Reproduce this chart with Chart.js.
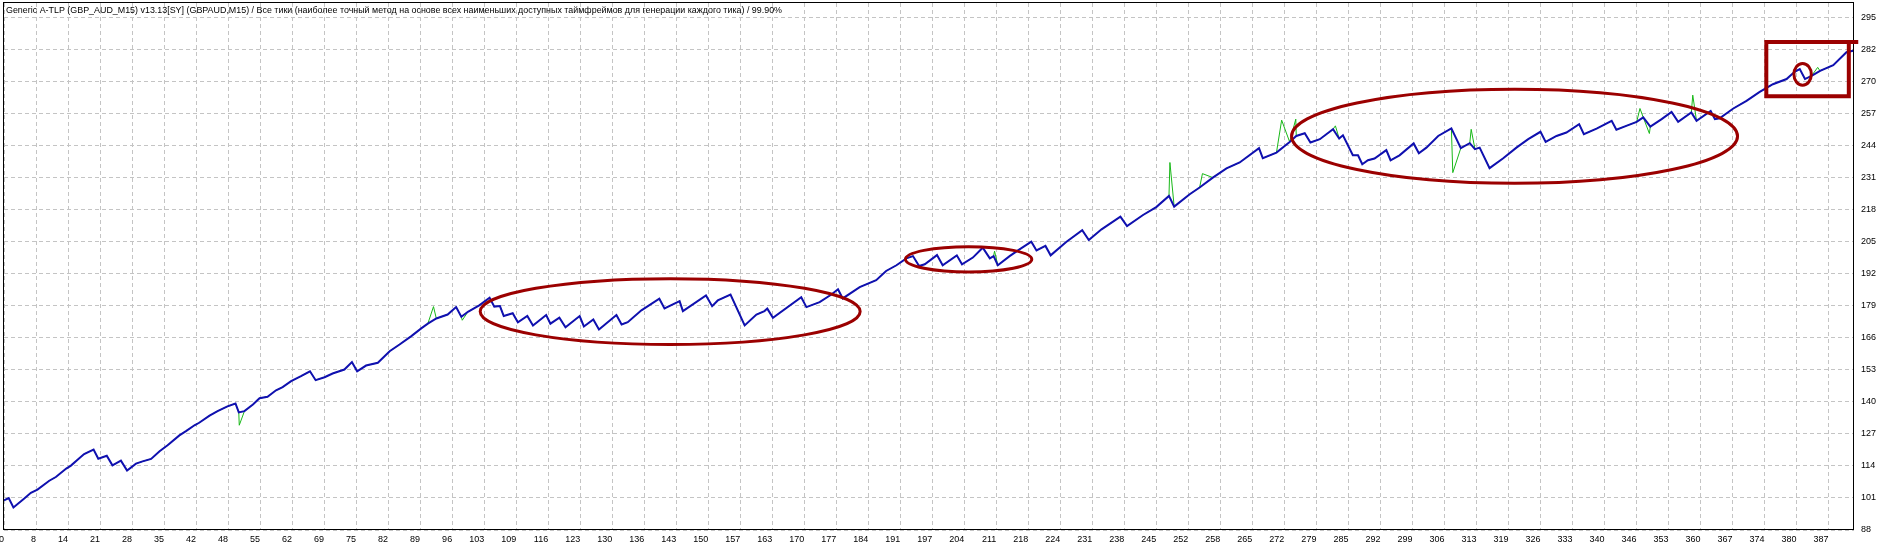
<!DOCTYPE html>
<html><head><meta charset="utf-8">
<script src="https://cdn.jsdelivr.net/npm/chart.js@4/dist/chart.umd.min.js"></script>
<style>html,body{margin:0;padding:0;background:#fff;overflow:hidden}#wrap{width:1900px;height:548px;position:relative}</style>
</head><body><div id="wrap"><canvas id="c" width="1900" height="548"></canvas></div>
<script>
const titleText = "Generic A-TLP (GBP_AUD_M15) v13.13[SY] (GBPAUD,M15) / Все тики (наиболее точный метод на основе всех наименьших доступных таймфреймов для генерации каждого тика) / 99.90%";

const xTickLabels = [0,8,14,21,28,35,42,48,55,62,69,75,82,89,96,103,109,116,123,130,136,143,150,157,163,170,177,184,191,197,204,211,218,224,231,238,245,252,258,265,272,279,285,292,299,306,313,319,326,333,340,346,353,360,367,374,380,387];
const yTickLabels = [88,101,114,127,140,153,166,179,192,205,218,231,244,257,270,282,295];

const tradeNo = [0,1.0,2.0,4.3,5.7,7.1,9.6,11.0,13.2,14.2,15.6,17.0,19.0,20.0,21.8,23.0,24.8,26.1,28.0,29.4,31.2,33.0,34.7,37.2,38.6,40.4,41.4,43.6,45.3,47.4,49.1,49.8,51.0,52.8,54.2,55.9,57.7,59.1,60.9,63.0,64.9,66.1,68.0,69.7,72.2,73.8,74.9,76.8,79.3,81.8,83.9,86.4,88.5,89.9,91.7,94.1,95.9,97.0,98.4,100.8,101.6,103.0,104.0,105.2,106.0,107.9,109.0,111.0,112.2,115.0,115.9,117.8,119.1,122.1,123.0,125.0,126.2,129.9,131.0,132.3,135.2,139.0,140.1,143.3,144.0,148.9,150.2,151.4,154.1,157.1,159.6,161.3,161.9,163.1,169.1,170.2,173.0,175.5,176.9,177.9,181.5,185.0,187.1,189.3,191.4,192.8,194.1,195.3,197.9,199.1,202.1,203.2,205.5,207.6,209.1,209.9,210.8,213.3,215.4,217.9,219.0,220.9,222.0,225.3,228.7,230.1,232.8,236.8,238.2,241.6,244.4,247.1,248.2,251.5,253.6,256.4,259.3,262.1,266.2,267.0,269.9,272.7,274.1,275.9,277.1,279.1,281.9,283.2,284.0,286.1,287.2,288.1,289.3,290.7,293.2,294.1,296.0,299.0,300.1,301.7,304.2,307.0,309.0,310.9,312.0,313.0,315.1,318.0,320.8,323.3,325.9,327.0,329.3,331.4,334.1,335.1,337.8,341.0,342.0,344.1,346.3,347.7,349.2,351.6,353.7,355.1,357.9,359.0,362.0,362.9,363.9,366.8,369.6,372.4,375.2,378.1,379.8,380.9,382.0,383.4,385.2,388.0,390.8,392.2];
const balance = [100.0,100.9,97.1,100.7,103.0,104.3,107.9,109.4,112.8,114.0,116.4,118.7,120.5,116.8,118.0,114.1,116.0,112.0,114.8,115.7,116.7,119.8,122.2,126.2,127.9,130.3,131.3,134.2,136.0,137.9,139.1,135.5,136.0,138.7,141.2,141.8,144.4,145.7,148.1,150.1,152.1,148.5,149.7,151.2,152.8,155.8,152.1,154.4,155.5,160.2,162.9,166.3,169.4,171.3,173.4,175.0,178.0,174.1,176.1,178.7,179.8,181.8,178.2,178.4,174.4,175.5,171.9,174.4,170.6,174.8,171.3,173.7,169.9,174.4,170.2,173.0,169.0,174.8,171.0,171.9,176.7,181.4,177.5,180.4,176.4,182.7,178.4,180.7,183.1,170.6,175.0,176.4,177.4,173.7,182.0,178.0,180.0,183.1,185.2,181.5,186.1,188.9,192.6,194.9,197.7,198.6,194.6,195.3,199.0,194.9,198.9,195.3,198.0,202.0,197.7,198.6,194.9,198.6,201.3,204.4,200.9,202.7,198.9,204.3,209.1,205.1,209.4,214.5,210.7,215.2,218.4,222.9,218.6,223.6,226.3,230.3,234.0,236.4,242.2,238.1,240.4,244.7,247.1,248.2,244.5,245.8,249.8,246.1,247.4,239.3,239.3,235.7,237.3,238.0,241.4,237.3,239.3,244.1,240.1,242.4,247.1,250.2,242.2,244.2,241.8,242.4,234.1,238.1,242.4,245.8,248.8,244.7,247.1,248.5,251.9,247.8,250.1,253.2,249.6,251.2,252.8,254.6,250.9,253.9,256.8,252.8,256.6,253.2,257.2,253.9,254.2,258.2,261.3,264.9,268.0,270.1,273.0,274.1,270.1,271.4,273.4,275.7,280.9,281.5];

// equity excursions away from balance (trade no., equity)
const equityTrade = [49.9,91.1,97.2,210.1,247.3,254.2,271.0,274.0,282.4,307.3,311.2,347.0,349.0,358.2,384.7];
const equityValue = [130.3,178.2,172.7,200.6,236.4,231.9,253.5,253.9,251.2,232.3,249.8,258.2,248.1,263.6,274.8];

// hand-drawn marks, in chart units (trade no., balance)
const marks = [
  {type:'ellipse', cx:141.3, cy:176.2, rx:40.3, ry:13.3, w:3},
  {type:'ellipse', cx:204.6, cy:197.3, rx:13.4, ry:5.1, w:3},
  {type:'ellipse', cx:320.4, cy:247.0, rx:47.3, ry:19.0, w:3},
  {type:'ellipse', cx:381.5, cy:272.0, rx:1.85, ry:4.4, w:3},
  {type:'rect', x1:373.8, x2:391.3, y1:263.1, y2:285.1, ext:393.3, w:4}
];

const balancePts = tradeNo.map((t,i)=>({x:t, y:balance[i]}));
const equityPts = balancePts.concat(equityTrade.map((t,i)=>({x:t, y:equityValue[i]}))).sort((a,b)=>a.x-b.x);

const xStep = (xTickLabels[xTickLabels.length-1]-xTickLabels[0])/(xTickLabels.length-1);
const yStep = (yTickLabels[yTickLabels.length-1]-yTickLabels[0])/(yTickLabels.length-1);
const FONT = 'Liberation Sans';

function noPad(s){ s.paddingTop = 0; s.paddingBottom = 0; s.paddingLeft = 0; s.paddingRight = 0; }

const framePlugin = {
  id:'frame',
  beforeDatasetsDraw(chart){
    const {ctx, chartArea:a} = chart;
    ctx.save();
    ctx.strokeStyle = '#000'; ctx.lineWidth = 1;
    ctx.strokeRect(Math.round(a.left)-0.5, Math.round(a.top)-0.5, Math.round(a.right-a.left), Math.round(a.bottom-a.top));
    ctx.fillStyle = '#000';
    ctx.font = '9px "' + FONT + '"';
    ctx.textBaseline = 'middle'; ctx.textAlign = 'left';
    ctx.fillText(titleText, a.left+2, a.top+8, 776);
    ctx.restore();
  },
  afterDatasetsDraw(chart){
    const {ctx} = chart;
    const xs = chart.scales.x, ys = chart.scales.y;
    ctx.save();
    ctx.strokeStyle = '#9b0000';
    marks.forEach(m=>{
      ctx.lineWidth = m.w;
      ctx.beginPath();
      if(m.type==='ellipse'){
        const cx = xs.getPixelForValue(m.cx), cy = ys.getPixelForValue(m.cy);
        const rx = Math.abs(xs.getPixelForValue(m.cx+m.rx)-cx), ry = Math.abs(ys.getPixelForValue(m.cy+m.ry)-cy);
        ctx.ellipse(cx, cy, rx, ry, 0, 0, Math.PI*2);
        ctx.stroke();
      } else {
        const x1 = xs.getPixelForValue(m.x1), x2 = xs.getPixelForValue(m.x2);
        const y1 = ys.getPixelForValue(m.y2), y2 = ys.getPixelForValue(m.y1);
        const xe = xs.getPixelForValue(m.ext);
        ctx.moveTo(x2, y1-2); ctx.lineTo(x2, y2); ctx.lineTo(x1, y2); ctx.lineTo(x1, y1); ctx.lineTo(xe, y1);
        ctx.stroke();
      }
    });
    ctx.restore();
  }
};

new Chart(document.getElementById('c'), {
  type:'line',
  data:{datasets:[
    {data:balancePts, borderColor:'#1010b0', borderWidth:2, pointRadius:0, tension:0, fill:false},
    {data:equityPts, borderColor:'#18b818', borderWidth:1, pointRadius:0, tension:0, fill:false}
  ]},
  options:{
    responsive:false, animation:false, devicePixelRatio:1,
    layout:{padding:{left:4, top:3, right:0, bottom:0}},
    plugins:{legend:{display:false}, tooltip:{enabled:false}},
    scales:{
      x:{type:'linear', position:'bottom', min:0, max:392.4,
        afterBuildTicks:s=>{ s.ticks = xTickLabels.map((l,i)=>({value:i*xStep})); },
        afterFit:s=>{ s.height = 18; noPad(s); },
        ticks:{autoSkip:false, maxRotation:0, minRotation:0, align:'end', padding:4, color:'#000', font:{family:FONT, size:9}, callback:(v,i)=>String(xTickLabels[i])},
        grid:{color:'#c4c4c4', lineWidth:1, drawTicks:false},
        border:{display:false, dash:[4,3]}
      },
      y:{type:'linear', position:'right', min:88, max:300.8,
        afterBuildTicks:s=>{ s.ticks = yTickLabels.map((l,i)=>({value:yTickLabels[0]+i*yStep})); },
        afterFit:s=>{ s.width = 46; noPad(s); },
        ticks:{autoSkip:false, padding:7, color:'#000', font:{family:FONT, size:9}, callback:(v,i)=>String(yTickLabels[i])},
        grid:{color:'#c4c4c4', lineWidth:1, drawTicks:false},
        border:{display:false, dash:[4,3]}
      }
    }
  },
  plugins:[framePlugin]
});
</script></body></html>
